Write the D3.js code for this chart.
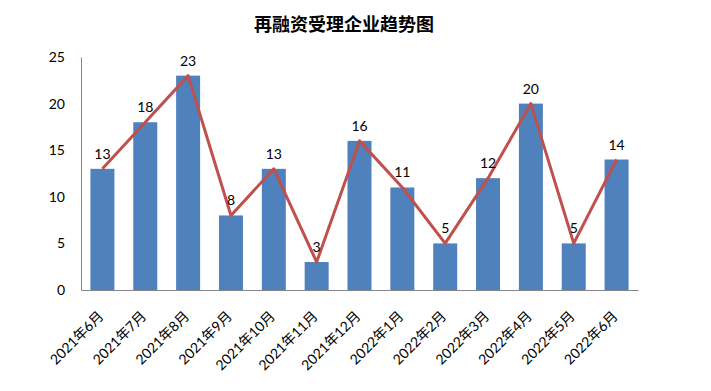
<!DOCTYPE html>
<html>
<head>
<meta charset="utf-8">
<script src="https://cdn.jsdelivr.net/npm/d3@7"></script>
<style>
  body { margin: 0; background: #fff; }
  text { font-family: Lato, "Noto Sans CJK SC", sans-serif; }
</style>
</head>
<body>
<div id="chart"></div>
<script>
// data
var months = ["2021年6月", "2021年7月", "2021年8月", "2021年9月", "2021年10月", "2021年11月",
  "2021年12月", "2022年1月", "2022年2月", "2022年3月", "2022年4月", "2022年5月", "2022年6月"];
var counts = [13, 18, 23, 8, 13, 3, 16, 11, 5, 12, 20, 5, 14];
var yTicks = [0, 5, 10, 15, 20, 25];

var W = 711, H = 391;
var margin = { top: 57, right: 73, bottom: 101, left: 81 };
var width = W - margin.left - margin.right,
    height = H - margin.top - margin.bottom;

var svg = d3.select("#chart").append("svg")
    .attr("width", W)
    .attr("height", H);

svg.append("text")
    .attr("x", 344)
    .attr("y", 31)
    .attr("text-anchor", "middle")
    .style("font-family", "'Noto Sans CJK SC', sans-serif")
    .style("font-weight", "bold")
    .style("font-size", "18px")
    .text("再融资受理企业趋势图");

var g = svg.append("g")
    .attr("transform", "translate(" + margin.left + "," + margin.top + ")");

var x = d3.scaleBand().domain(months).range([0, width]).paddingInner(0.44).paddingOuter(0.22);
var y = d3.scaleLinear().domain([0, 25]).range([height, 0]);

// bars
g.selectAll(".bar")
    .data(counts)
    .enter().append("rect")
    .attr("class", "bar")
    .attr("x", function (d, i) { return x(months[i]); })
    .attr("y", function (d) { return y(d); })
    .attr("width", x.bandwidth())
    .attr("height", function (d) { return height - y(d); })
    .attr("fill", "#4F81BD");

// axes
var yAxis = g.append("g")
    .call(d3.axisLeft(y).tickValues(yTicks).tickSize(0).tickPadding(16));
yAxis.select(".domain").attr("stroke", "#868686");
yAxis.selectAll("text")
    .style("font-size", "14px")
    .style("fill", "#000");

var xAxis = g.append("g")
    .attr("transform", "translate(0," + height + ")")
    .call(d3.axisBottom(x).tickSize(0));
xAxis.select(".domain").attr("stroke", "#868686");
xAxis.selectAll("text")
    .style("font-size", "14px")
    .style("fill", "#000")
    .attr("text-anchor", "end")
    .attr("dx", 0)
    .attr("dy", 0)
    .attr("y", 0)
    .attr("transform", "translate(2,27) rotate(-45)");

// line
var line = d3.line()
    .x(function (d, i) { return x(months[i]) + x.bandwidth() / 2; })
    .y(function (d) { return y(d); });

g.append("path")
    .datum(counts)
    .attr("d", line)
    .attr("fill", "none")
    .attr("stroke", "#C0504D")
    .attr("stroke-width", 3)
    .attr("stroke-linejoin", "round");

// value labels
g.selectAll(".lbl")
    .data(counts)
    .enter().append("text")
    .attr("class", "lbl")
    .attr("x", function (d, i) { return x(months[i]) + x.bandwidth() / 2; })
    .attr("y", function (d) { return y(d) - 10; })
    .attr("text-anchor", "middle")
    .style("font-size", "14px")
    .text(function (d) { return d; });
</script>
</body>
</html>
